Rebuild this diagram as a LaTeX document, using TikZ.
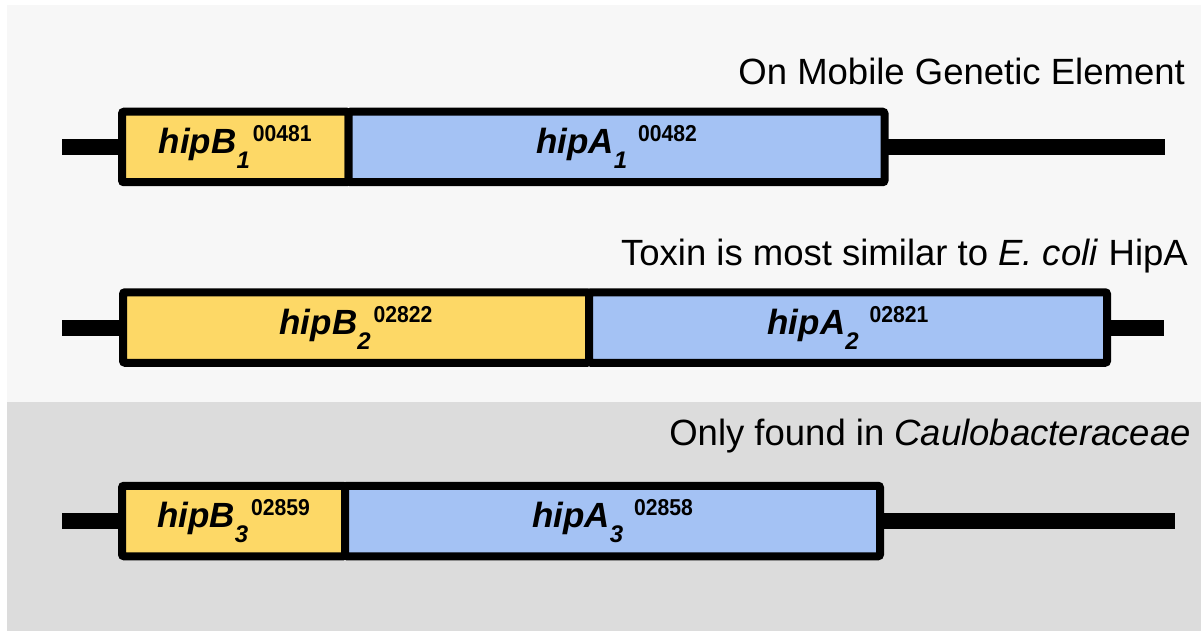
\documentclass[tikz,border=0pt]{standalone}
\usepackage{fontspec}
\setmainfont{Liberation Sans}
\usetikzlibrary{positioning}

\definecolor{hipByellow}{HTML}{FDD866}
\definecolor{hipAblue}{HTML}{A4C2F4}
\definecolor{paneltop}{HTML}{F7F7F7}
\definecolor{panelbottom}{HTML}{DCDCDC}

%gene name, subscript, locus number, gap before the locus number
\newcommand{\genelabel}[4]{%
	{\fontsize{35}{35}\selectfont\bfseries\itshape #1}%
	\raisebox{-15pt}{\fontsize{24}{24}\selectfont\bfseries\itshape #2}%
	\hspace{#4}%
	\raisebox{12pt}{\fontsize{23}{23}\selectfont\bfseries\scalebox{0.92}[1]{#3}}}

\tikzset{
	gene/.style={draw=black, line width=8pt, rounded corners=2pt, inner sep=0pt, outer sep=0pt, minimum height=70.5pt},
	hipB/.style={gene, fill=hipByellow, anchor=west},
	hipA/.style={gene, fill=hipAblue},
	backbone/.style={black, line width=16pt},
	caption/.style={anchor=base east, inner sep=0pt, font=\fontsize{36.5}{36.5}\selectfont},
}

\begin{document}
\begin{tikzpicture}[x=1pt, y=-1pt]
	\useasboundingbox (0,0) rectangle (1201,631);
	%Panels
	\fill[paneltop] (7,5) rectangle (1201,402);
	\fill[panelbottom] (7,402) rectangle (1201,631);

	%Text coordinate
	\coordinate (mobile) at (1185,85) ;
	\coordinate (toxin) at (1188,265) ;
	\coordinate (caulo) at (1191,445) ;
	\coordinate (start1) at (122,147) ;
	\coordinate (start2) at (123,327.5) ;
	\coordinate (start3) at (122,521) ;
	\coordinate (left1) at (62,147) ;
	\coordinate (right1) at (1165,147) ;
	\coordinate (left2) at (62,327.5) ;
	\coordinate (right2) at (1164,327.5) ;
	\coordinate (left3) at (62,521) ;
	\coordinate (right3) at (1175,521) ;

	%Text
	\node[caption] (mobiletext) at (mobile) {On Mobile Genetic Element};
	\node[caption] (toxintext) at (toxin) {Toxin is most similar to \textit{E. coli} HipA};
	\node[caption] (caulotext) at (caulo) {Only found in \textit{Caulobacteraceae}};

	%Operons
	\node[hipB, minimum width=226.5pt] (hipB1) at (start1) {\genelabel{hipB}{1}{00481}{3pt}};
	\node[hipA, minimum width=536pt, right=0pt of hipB1] (hipA1) {\genelabel{hipA}{1}{00482}{11pt}};
	\node[hipB, minimum width=466pt] (hipB2) at (start2) {\genelabel{hipB}{2}{02822}{3pt}};
	\node[hipA, minimum width=518pt, right=0pt of hipB2] (hipA2) {\genelabel{hipA}{2}{02821}{11pt}};
	\node[hipB, minimum width=223pt] (hipB3) at (start3) {\genelabel{hipB}{3}{02859}{3pt}};
	\node[hipA, minimum width=535pt, right=0pt of hipB3] (hipA3) {\genelabel{hipA}{3}{02858}{11pt}};

	%Lines
	\draw[backbone] (left1) -- (hipB1.west);
	\draw[backbone] (hipA1.east) -- (right1);
	\draw[backbone] (left2) -- (hipB2.west);
	\draw[backbone] (hipA2.east) -- (right2);
	\draw[backbone] (left3) -- (hipB3.west);
	\draw[backbone] (hipA3.east) -- (right3);
\end{tikzpicture}
\end{document}
